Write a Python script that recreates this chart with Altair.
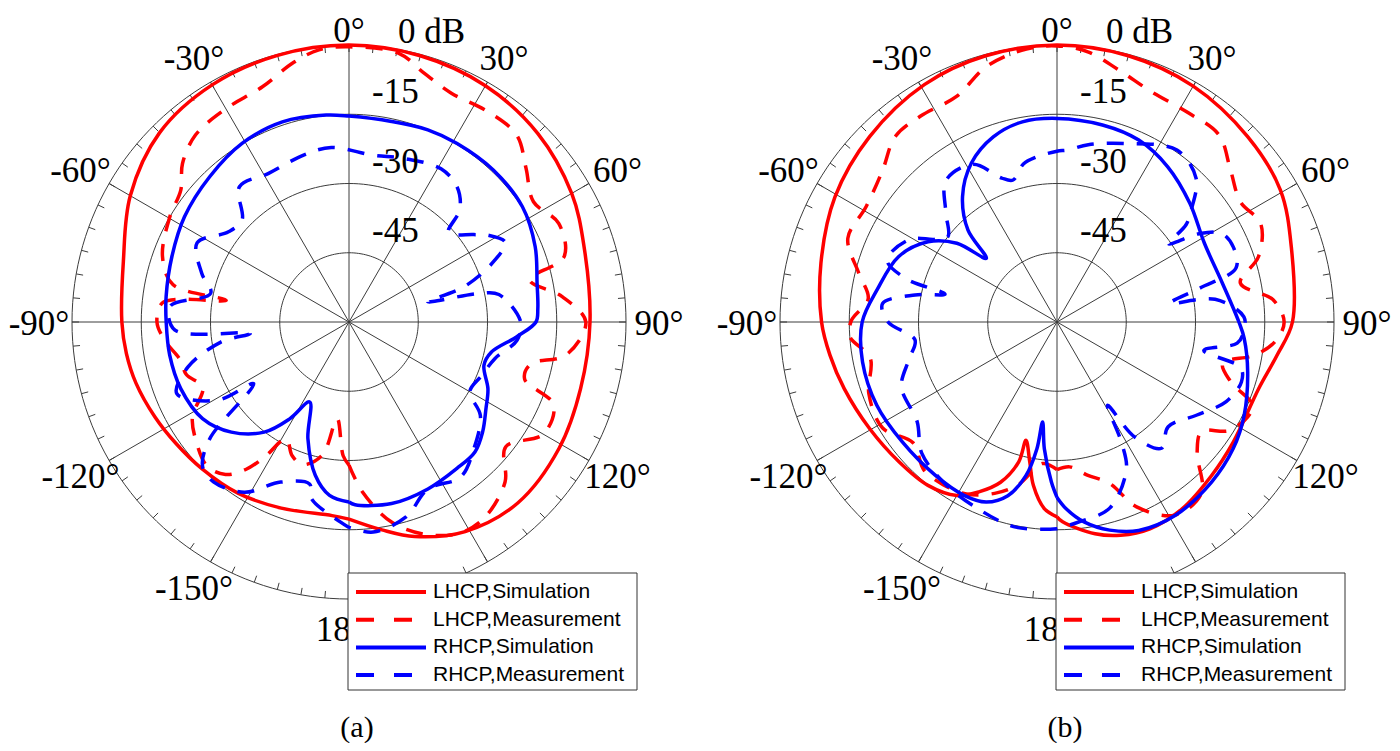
import altair as alt
import pandas as pd

# ---------------- data (angle in degrees, level in dB) ----------------
A_LHCP_SIM = [(-180, -17.3), (-175, -17.9), (-160, -17.1), (-147, -15.8), (-135, -15.0), (-125, -14.2),
              (-116, -13.2), (-106, -12.0), (-98, -11.3), (-90, -10.8), (-75, -9.4), (-60, -5.3), (-45, -2.0),
              (-30, -0.7), (-15, -0.2), (0, 0.0), (15, -0.3), (30, -0.9), (45, -2.2), (60, -4.3), (72, -6.5),
              (90, -7.8), (106, -7.8), (121, -6.9), (137, -6.4), (151, -8.1), (163, -11.4), (171, -14.4),
              (180, -17.3)]
A_LHCP_MEAS = [(-180, -29), (-177.5, -31), (-173, -38.9), (-168.7, -30.6), (-162, -27.5), (-157, -28.5),
               (-151.7, -31.3), (-148, -25.5), (-145, -21), (-141, -17.5), (-135.5, -16.2), (-128, -18),
               (-121.3, -20.3), (-114, -25.3), (-108, -23), (-102.5, -22.5), (-96, -20), (-90, -18.4),
               (-84, -19.5), (-80, -33), (-78, -21), (-70.7, -17.2), (-59.6, -15), (-51.9, -13.7),
               (-46.4, -10.2), (-39.4, -7.6), (-30.5, -6.7), (-20.2, -5.7), (-12, -2.5), (-6.3, -0.7),
               (0, -0.4), (10.5, -0.8), (16.8, -3.7), (24.1, -5.7), (33.4, -5.4), (41.9, -5.6), (49, -9.2),
               (56.9, -12.3), (64.8, -9.8), (73.1, -11.3), (76.9, -19.8), (83.2, -13.5), (90, -8.7),
               (98.7, -12.5), (103, -19.6), (108, -20), (112, -12.2), (120, -11.4), (128.5, -16.6),
               (135.7, -11.6), (145, -8.5), (152, -8.3), (160, -11), (168, -15.7), (175.4, -23), (180, -29)]
A_RHCP_SIM = [(-180, -21.0), (-173.6, -22.2), (-167.6, -26.0), (-160.6, -33.2), (-153.8, -40.7),
              (-148.5, -35.4), (-142.4, -29.9), (-133.1, -25.1), (-123.4, -22.0), (-111.6, -20.8),
              (-100.5, -20.5), (-90, -20.4), (-82, -20.0), (-69.7, -19.1), (-57.4, -17.7), (-43.8, -16.4),
              (-30.8, -14.9), (-18.4, -14.3), (-6.3, -14.9), (0, -15.4), (12, -15.6), (22.3, -15.0),
              (31.2, -14.8), (43.5, -14.6), (56.4, -14.9), (68, -16.5), (78.3, -18.4), (86, -19.0),
              (90, -19.5), (95, -23.5), (102, -28.5), (107.8, -29.3), (115.7, -26.6), (122.3, -24.9),
              (129.5, -22.5), (135.9, -20.8), (143.6, -20.6), (154.7, -20.0), (166.8, -19.6),
              (178.1, -20.4), (180, -21.0)]
A_RHCP_MEAS = [(-180, -15.5), (-177.6, -16.6), (-168, -20.9), (-166.3, -23.9), (-156.9, -22.3),
               (-148.4, -16.7), (-139.7, -14.6), (-134.7, -15.4), (-130, -20.6), (-122.9, -35.4),
               (-120.7, -26.8), (-112.6, -19.6), (-105.6, -23.8), (-98.9, -31.9), (-96.5, -38.5),
               (-92.6, -22.2), (-85, -21.1), (-78.3, -29.4), (-71.7, -26.4), (-62.5, -22.9), (-53.2, -27.4),
               (-46.4, -28), (-39, -22.3), (-28.4, -23.4), (-15, -22.5), (-5.8, -22.0), (8, -23.5),
               (18.7, -22.6), (31, -21.3), (38.6, -22.5), (44.6, -25.8), (48, -31), (55, -27), (58, -24.5),
               (63, -22), (67.2, -25.9), (72.8, -33.6), (75.6, -42.4), (77.6, -31.2), (79.6, -27),
               (90, -22.8), (96.2, -23.4), (104, -27.4), (112, -29), (120, -29.8), (125.4, -25.1),
               (135.9, -21.3), (144.3, -18.6), (154.7, -20.0), (163.7, -16.0), (173.4, -14.2), (180, -15.5)]

B_LHCP_SIM = [(-180, -17.8), (-176.1, -19.5), (-171.8, -24.2), (-169, -29.1), (-165.3, -33.5),
              (-164.7, -28.6), (-160.6, -23.2), (-155.3, -19.5), (-150, -16.6), (-141.7, -14.9),
              (-131.5, -14.3), (-119.7, -13.3), (-107.4, -11.7), (-98.3, -10.3), (-90, -9.0), (-76, -7.3),
              (-60.6, -4.8), (-45.3, -2.9), (-29.2, -1.1), (-15, -0.3), (0, 0.0), (15, -0.3), (30, -1.0),
              (45.8, -2.4), (59.4, -3.8), (72.2, -6.7), (90, -9.0), (98.6, -11.8), (108.3, -14.0),
              (124.2, -13.8), (134.8, -12.8), (146.1, -11.3), (155.8, -10.9), (163.4, -11.8),
              (169.8, -13.4), (178.4, -16.7), (180, -17.8)]
B_LHCP_MEAS = [(-180, -28), (-174.2, -29.2), (-166.5, -23.7), (-160, -20.5), (-152.2, -17.9), (-145, -17),
               (-138, -16.9), (-130, -19.3), (-121.3, -15.8), (-110.8, -16.4), (-101, -18.8), (-94, -15),
               (-89.5, -15.5), (-83, -18.8), (-76.2, -15.8), (-68.2, -11.2), (-58.9, -11.7), (-48.9, -9.9),
               (-41.1, -6.7), (-33.5, -6.5), (-23.9, -6.5), (-15.5, -2.6), (-6.4, -0.5), (0, -0.2),
               (6.5, -1.1), (13.8, -3.8), (22.3, -6.1), (32, -6.5), (40.9, -6.4), (48.7, -10), (56.8, -12.5),
               (64.2, -11), (72, -14.1), (78, -19.4), (84.2, -12.9), (90, -10.8), (95, -12.5), (99.5, -16.5),
               (104, -23), (109, -20.2), (113.4, -13.8), (121.9, -15.7), (127.2, -20.7), (133, -18.5),
               (139.8, -11.5), (148.6, -11.0), (156.7, -16.4), (161.9, -23.2), (168.8, -26.2),
               (175, -28.5), (180, -28)]
B_RHCP_SIM = [(-180, -22.0), (-178, -25.3), (-174.3, -32.4), (-171.8, -38.1), (-171, -32.2),
              (-168.6, -26.1), (-164.2, -20.9), (-158.5, -18.1), (-151.8, -17.4), (-141.5, -17.6),
              (-127.8, -17.6), (-114.8, -17.0), (-101.6, -17.0), (-90, -17.8), (-79.9, -20.4),
              (-67.5, -22.9), (-58.1, -27.1), (-51.8, -32.4), (-48, -39.4), (-44.1, -32.3), (-37, -26.0),
              (-28.3, -20.9), (-19, -17.6), (-9.8, -16.0), (0, -15.9), (13, -16.2), (24.2, -16.8),
              (35.5, -18.7), (48.2, -21.4), (61.9, -23.8), (76.8, -23.2), (90, -20.6), (95, -19.3),
              (104.7, -17.3), (116.5, -14.7), (125.7, -13.0), (136, -11.8), (148.5, -10.9), (158.6, -11.5),
              (165.8, -13.5), (172.3, -16.3), (177.2, -19.5), (180, -22.0)]
B_RHCP_MEAS = [(-180, -15.2), (-177.9, -15.1), (-168, -14.7), (-156.9, -16.1), (-145.8, -17.3),
               (-134.1, -19.2), (-125.5, -22.8), (-112.6, -23.5), (-104, -27), (-97.2, -29), (-90, -23.4),
               (-84, -22), (-79.2, -28.7), (-76, -35), (-74, -26), (-69.9, -20.8), (-60.6, -23.5),
               (-56, -28), (-52, -30), (-45.3, -26.1), (-38, -21), (-28, -21.3), (-21, -26.6),
               (-17.2, -27.8), (-12, -25), (-7.2, -24), (0, -23), (3.4, -22.7), (10, -21), (20.9, -18.6),
               (34.9, -14.6), (44.1, -16.7), (50, -22), (53, -25), (55, -30.5), (58, -24), (61.7, -19.5),
               (67, -18.5), (73.2, -19.5), (76.7, -28.3), (80.6, -35.2), (81.8, -25.4), (88.4, -19.5),
               (93, -19.5), (96.7, -20.7), (101, -27.6), (104, -19), (108, -18), (115.2, -19.5),
               (123.6, -23.6), (133.3, -26.9), (140.4, -24.5), (146, -30), (148.7, -38.9), (151.9, -30.2),
               (154.9, -24.6), (164.2, -18.1), (173.3, -16.5), (180, -15.2)]

SERIES = ["LHCP,Simulation", "LHCP,Measurement", "RHCP,Simulation", "RHCP,Measurement"]
SERIES_COLORS = ["#ff0000", "#ff0000", "#0000ff", "#0000ff"]
SERIES_DASHED = [False, True, False, True]
PANELS = ["a", "b"]
CAPTIONS = ["(a)", "(b)"]
RING_LEVELS = [0, -15, -30, -45]
RING_LABELS = ["0 dB", "-15", "-30", "-45"]
# the 150 degree label lies under the legend box in the original, so it is not shown
ANGLE_TICKS = [0, 30, 60, 90, 120, 180, -150, -120, -90, -60, -30]
DEG_MARK = "\u00b0"

CURVES = {
    ("a", SERIES[0]): A_LHCP_SIM, ("a", SERIES[1]): A_LHCP_MEAS,
    ("a", SERIES[2]): A_RHCP_SIM, ("a", SERIES[3]): A_RHCP_MEAS,
    ("b", SERIES[0]): B_LHCP_SIM, ("b", SERIES[1]): B_LHCP_MEAS,
    ("b", SERIES[2]): B_RHCP_SIM, ("b", SERIES[3]): B_RHCP_MEAS,
}

# ---------------- layout ----------------
W, H = 1384, 735
CXA, CXB, CY = 341, 1049, 314
R = 277.0
DB_MIN = -60.0
LAB_RX, LAB_RY = 310, 306
MAIN_FS = 35
SERIF = "Liberation Serif"
SANS = "Liberation Sans"
GRID = "#3c3c3c"

CX = f"(datum.panel == 'a' ? {CXA} : {CXB})"
RAD = "(datum.deg * PI / 180)"


def rpx(field):
    return f"max(0, ({field} - ({DB_MIN})) / ({-DB_MIN})) * {R}"


XS = alt.Scale(domain=[0, W], range=[0, W], nice=False, zero=False)
YS = alt.Scale(domain=[0, H], range=[0, H], nice=False, zero=False)


def X(f):
    return alt.X(f"{f}:Q", scale=XS, axis=None)


def Y(f):
    return alt.Y(f"{f}:Q", scale=YS, axis=None)


COLOR = alt.Color("series:N", scale=alt.Scale(domain=SERIES, range=SERIES_COLORS), legend=None)

# ---------------- tables ----------------
rows = []
for panel in PANELS:
    for s in SERIES:
        for i, (d, v) in enumerate(CURVES[(panel, s)]):
            rows.append(dict(panel=panel, series=s, idx=i, deg=d, db=v))
curves_df = pd.DataFrame(rows)

circ_df = pd.DataFrame([dict(panel=p, lvl=l, idx=k, deg=a)
                        for p in PANELS for l in RING_LEVELS
                        for k, a in enumerate(range(0, 361, 2))])
spoke_df = pd.DataFrame([dict(panel=p, deg=a) for p in PANELS for a in range(0, 360, 30)])
tick_df = pd.DataFrame([dict(panel=p, deg=a) for p in PANELS for a in range(0, 360, 5)])
alab_df = pd.DataFrame([dict(panel=p, deg=a, label=f"{a}{DEG_MARK}")
                        for p in PANELS for a in ANGLE_TICKS])
ring_df = pd.DataFrame([dict(panel=p, lvl=l, label=t)
                        for p in PANELS for l, t in zip(RING_LEVELS, RING_LABELS)])
cap_df = pd.DataFrame([dict(panel=p, label=c) for p, c in zip(PANELS, CAPTIONS)])
leg_df = pd.DataFrame([dict(panel=p, series=s, row=i, dashed=d)
                       for p in PANELS for i, (s, d) in enumerate(zip(SERIES, SERIES_DASHED))])
legbox_df = pd.DataFrame([dict(panel=p) for p in PANELS])

# ---------------- layers ----------------
circles = (alt.Chart(circ_df)
           .transform_calculate(r=rpx("datum.lvl"))
           .transform_calculate(x=f"{CX} + datum.r * sin({RAD})")
           .transform_calculate(y=f"{CY} - datum.r * cos({RAD})")
           .mark_line(color=GRID, strokeWidth=1)
           .encode(x=X("x"), y=Y("y"), detail=["panel:N", "lvl:Q"], order="idx:Q"))

spokes = (alt.Chart(spoke_df)
          .transform_calculate(x=CX, y=f"{CY}")
          .transform_calculate(x2=f"{CX} + {R} * sin({RAD})")
          .transform_calculate(y2=f"{CY} - {R} * cos({RAD})")
          .mark_rule(color=GRID, strokeWidth=1)
          .encode(x=X("x"), y=Y("y"), x2="x2:Q", y2="y2:Q"))

ticks = (alt.Chart(tick_df)
         .transform_calculate(x=f"{CX} + {R - 7} * sin({RAD})")
         .transform_calculate(y=f"{CY} - {R - 7} * cos({RAD})")
         .transform_calculate(x2=f"{CX} + {R} * sin({RAD})")
         .transform_calculate(y2=f"{CY} - {R} * cos({RAD})")
         .mark_rule(color=GRID, strokeWidth=1)
         .encode(x=X("x"), y=Y("y"), x2="x2:Q", y2="y2:Q"))

curve_base = (alt.Chart(curves_df)
              .transform_calculate(r=rpx("datum.db"))
              .transform_calculate(x=f"{CX} + datum.r * sin({RAD})")
              .transform_calculate(y=f"{CY} - datum.r * cos({RAD})"))

curve_layers = []
for s, dashed in zip(SERIES, SERIES_DASHED):
    kw = dict(strokeWidth=3.5, interpolate="catmull-rom")
    if dashed:
        kw["strokeDash"] = [17, 13]
    curve_layers.append(
        curve_base.transform_filter(alt.datum.series == s)
        .mark_line(**kw)
        .encode(x=X("x"), y=Y("y"), color=COLOR, detail="panel:N", order="idx:Q"))

angle_labels = (alt.Chart(alab_df)
                .transform_calculate(px=f"{CX} + {LAB_RX} * sin({RAD})")
                .transform_calculate(py=f"{CY} - {LAB_RY} * cos({RAD})")
                .transform_calculate(by="max(datum.py + 13, 34)")
                .mark_text(font=SERIF, fontSize=MAIN_FS, align="center", baseline="alphabetic",
                           color="black")
                .encode(x=X("px"), y=Y("by"), text="label:N"))

ring_labels = (alt.Chart(ring_df)
               .transform_calculate(r=rpx("datum.lvl"))
               .transform_calculate(x=f"{CX} + (datum.lvl == 0 ? 49 : 23)")
               .transform_calculate(y=f"{CY} - datum.r - (datum.lvl == 0 ? 2 : 11)")
               .mark_text(font=SERIF, fontSize=MAIN_FS, align="left", baseline="alphabetic", color="black")
               .encode(x=X("x"), y=Y("y"), text="label:N"))

captions = (alt.Chart(cap_df)
            .transform_calculate(x=f"{CX} + 8", y="720")
            .mark_text(font=SERIF, fontSize=30, align="center", baseline="middle", color="black")
            .encode(x=X("x"), y=Y("y"), text="label:N"))

LEG_TOP, LEG_BOT = 565, 682
legbox = (alt.Chart(legbox_df)
          .transform_calculate(x=f"{CX} - 1", x2=f"{CX} + 288", y=f"{LEG_TOP}", y2=f"{LEG_BOT}")
          .mark_rect(fill="white", stroke="#333333", strokeWidth=1)
          .encode(x=X("x"), y=Y("y"), x2="x2:Q", y2="y2:Q"))

leg_base = (alt.Chart(leg_df)
            .transform_calculate(x1=f"{CX} + 7", x2=f"{CX} + 77", tx=f"{CX} + 84")
            .transform_calculate(ly=f"{LEG_TOP} + 19 + datum.row * 27.7"))
leg_solid = (leg_base.transform_filter("!datum.dashed")
             .mark_rule(strokeWidth=4)
             .encode(x=X("x1"), x2="x2:Q", y=Y("ly"), color=COLOR))
leg_dash = (leg_base.transform_filter("datum.dashed")
            .mark_rule(strokeWidth=4, strokeDash=[18, 20])
            .encode(x=X("x1"), x2="x2:Q", y=Y("ly"), color=COLOR))
leg_text = (leg_base.mark_text(font=SANS, fontSize=21, align="left", baseline="middle", color="black")
            .encode(x=X("tx"), y=Y("ly"), text="series:N"))

chart = (alt.layer(circles, spokes, ticks, *curve_layers, angle_labels, ring_labels, captions,
                   legbox, leg_solid, leg_dash, leg_text)
         .properties(width=W, height=H, padding=0, autosize=alt.AutoSizeParams(type="none"))
         .configure_view(stroke=None))

chart.save("out.html", embed_options={"renderer": "svg", "actions": False})
